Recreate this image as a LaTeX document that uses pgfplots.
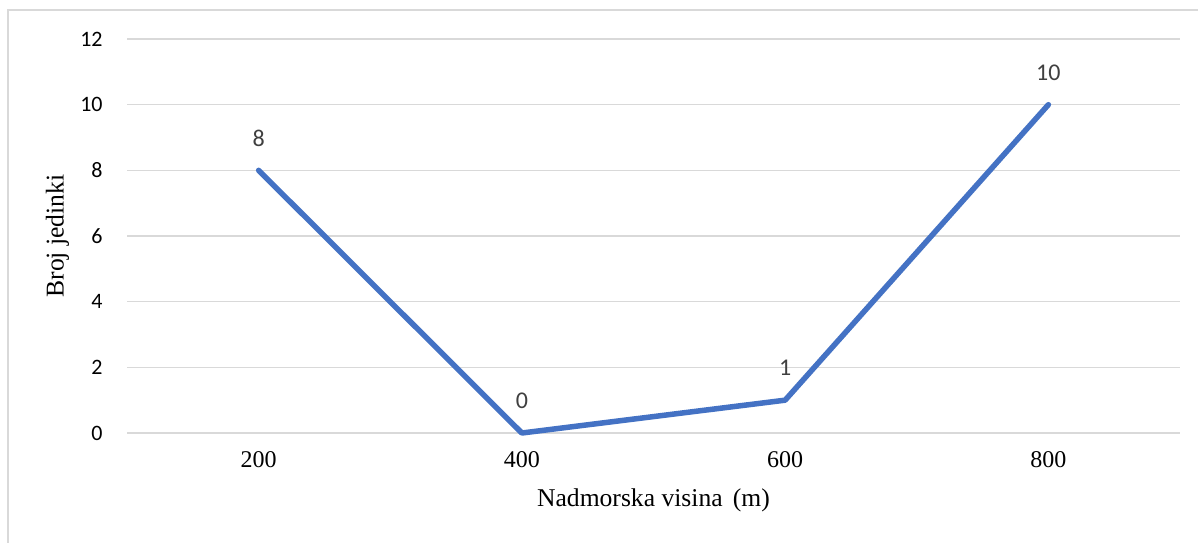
\documentclass[border=0pt]{standalone}
\usepackage{fontspec}
\setmainfont{Liberation Serif}
\newfontfamily\carlito{Carlito}
\usepackage{pgfplots}
\pgfplotsset{compat=1.18}

\definecolor{lineblue}{HTML}{4472C4}
\definecolor{gridgray}{HTML}{D9D9D9}
\definecolor{labelgray}{HTML}{404040}

\begin{document}
\begin{tikzpicture}
  % picture is 1198x542 px at 0.5pt per px
  \useasboundingbox (0,0) rectangle (599pt,271pt);
  \clip (0,0) rectangle (599pt,271pt);
  \fill[white] (0,0) rectangle (599pt,271pt);
  \draw[gridgray, line width=0.75pt] (4pt,-20pt) rectangle (640pt,266pt);
  \begin{axis}[
      at={(63.5pt,54.5pt)}, anchor=south west,
      scale only axis,
      width=526.5pt, height=197pt,
      xmin=-0.5, xmax=3.5,
      ymin=0, ymax=12,
      xtick={0,1,2,3},
      xticklabels={200,400,600,800},
      ytick={0,2,...,12},
      axis x line*=bottom, axis y line*=left,
      axis line style={draw=none},
      ymajorgrids,
      grid style={gridgray, line width=0.75pt},
      major tick length=0pt,
      /pgf/number format/assume math mode=true,
      yticklabel style={font=\carlito\fontsize{11}{13}\selectfont, anchor=east, inner sep=0pt, xshift=-12pt},
      xticklabel style={font=\fontsize{12}{14}\selectfont, anchor=north, inner sep=0pt, yshift=-9pt},
      every axis y label/.style={at={(axis description cs:-0.066,0.5)}, rotate=90, anchor=center},
      every axis x label/.style={at={(axis description cs:0.5,-0.170)}, anchor=center},
      label style={font=\fontsize{12.8}{15}\selectfont},
      xlabel={Nadmorska visina\hspace{0.15em} (m)},
      ylabel={Broj jedinki},
      clip=false,
    ]
    \addplot[lineblue, line width=2.75pt, line cap=round, line join=round,
      nodes near coords,
      every node near coord/.append style={anchor=center, yshift=16pt, text=labelgray,
        font=\carlito\fontsize{12}{14}\selectfont}]
      coordinates {(0,8) (1,0) (2,1) (3,10)};
  \end{axis}
\end{tikzpicture}
\end{document}
